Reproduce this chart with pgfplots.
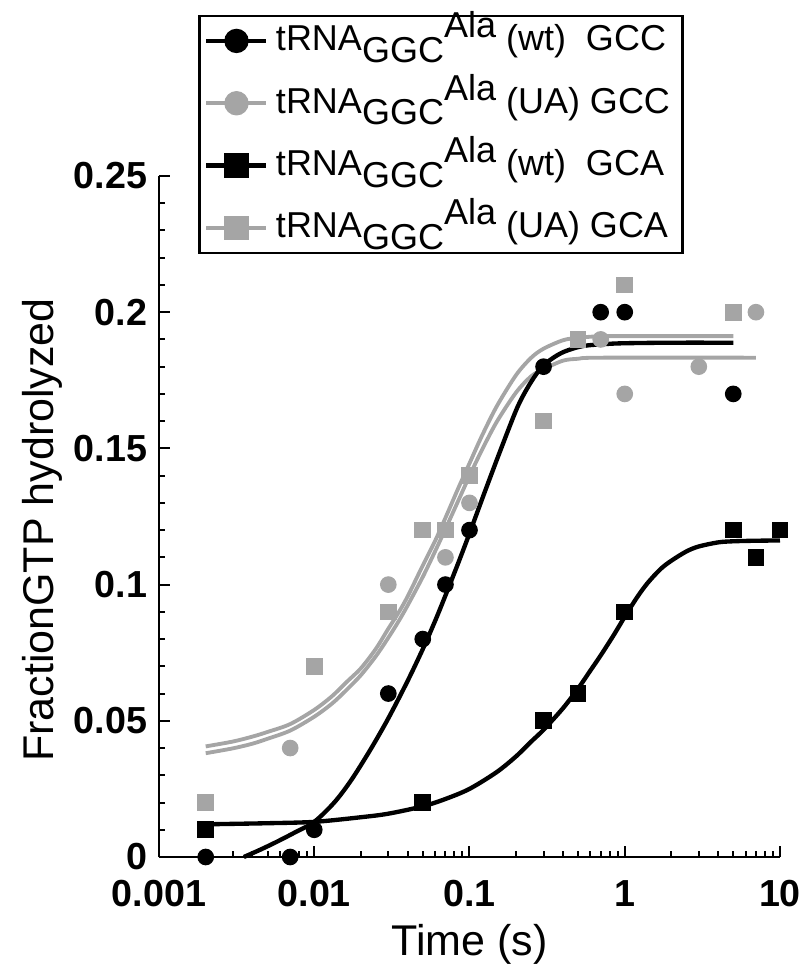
\documentclass[border=0pt]{standalone}
\usepackage{fontspec}
\setmainfont{Liberation Sans}
\usepackage{pgfplots}
\pgfplotsset{compat=1.18}
\definecolor{lgray}{RGB}{165,165,165}

\newcommand{\trna}[1]{tRNA\raisebox{-0.32em}{GGC}\raisebox{0.36em}{Ala} #1}

\begin{document}
\begin{tikzpicture}
\path[use as bounding box] (-47.7pt,-33.9pt) rectangle (192pt,257.1pt);
\begin{axis}[
    at={(0,0)}, anchor=south west,
    scale only axis, width=186.3pt, height=204.3pt,
    xmode=log, xmin=0.001, xmax=10, ymin=0, ymax=0.25,
    clip=false,
    axis lines*=left,
    axis line style={line width=0.8pt},
    tick align=inside,
    major tick length=3.2pt, minor tick length=1.9pt,
    every tick/.style={black, line width=0.6pt},
    xtick={0.001,0.01,0.1,1,10},
    xticklabels={0.001,0.01,0.1,1,10},
    minor xtick={0.002,0.003,0.004,0.005,0.006,0.007,0.008,0.009,
                 0.02,0.03,0.04,0.05,0.06,0.07,0.08,0.09,
                 0.2,0.3,0.4,0.5,0.6,0.7,0.8,0.9,
                 2,3,4,5,6,7,8,9},
    ytick={0,0.05,0.1,0.15,0.2,0.25},
    yticklabels={0,0.05,0.1,0.15,0.2,0.25},
    minor ytick={0.01,0.02,0.03,0.04,0.06,0.07,0.08,0.09,0.11,0.12,0.13,0.14,
                 0.16,0.17,0.18,0.19,0.21,0.22,0.23,0.24},
    tick label style={font=\fontsize{11.3}{13}\selectfont\bfseries},
    xticklabel style={yshift=-3.5pt},
    xlabel={Time (s)},
    ylabel={FractionGTP hydrolyzed},
    label style={font=\fontsize{12.9}{15}\selectfont},
    xlabel style={at={(axis description cs:0.5,-0.129)}, anchor=center},
    ylabel style={at={(axis description cs:-0.1884,0.48)}, anchor=center},
    legend style={at={(axis description cs:0.0628,1.237)}, anchor=north west,
        draw=black, line width=0.8pt, fill=white,
        inner xsep=1.5pt, inner ysep=1.5pt, row sep=6.7pt,
        font=\fontsize{10.8}{12}\selectfont,
        nodes={text height=9pt, text depth=3pt, inner ysep=0pt, inner xsep=2.2pt}},
    legend cell align=left,
    legend image code/.code={
        \draw[mark repeat=2, mark phase=2, #1]
            plot coordinates {(0pt,0pt) (9pt,0pt) (18pt,0pt)};},
]

% legend samples
\addlegendimage{black, line width=1.3pt, mark=*, mark size=3pt}
\addlegendentry{\trna{(wt)\ \ GCC}}
\addlegendimage{lgray, line width=1.3pt, mark=*, mark size=3pt}
\addlegendentry{\trna{(UA) GCC}}
\addlegendimage{black, line width=1.3pt, mark=square*, mark size=3pt}
\addlegendentry{\trna{(wt)\ \ GCA}}
\addlegendimage{lgray, line width=1.3pt, mark=square*, mark size=3pt}
\addlegendentry{\trna{(UA) GCA}}

% fitted curves
% UA GCA fit (upper gray)
\addplot[lgray, line width=1.15pt, smooth, forget plot] coordinates {
    (0.002,0.0406) (0.003,0.0424) (0.004,0.0442) (0.005,0.0459) (0.007,0.0488)
    (0.01,0.0540) (0.013,0.0590) (0.016,0.0640) (0.02,0.0693) (0.025,0.0765)
    (0.03,0.0838) (0.035,0.0898) (0.04,0.0957) (0.05,0.1070) (0.06,0.1160)
    (0.07,0.1245) (0.085,0.1356) (0.1,0.1445) (0.12,0.1545) (0.15,0.1655)
    (0.2,0.1770) (0.25,0.1833) (0.3,0.1866) (0.4,0.1897) (0.5,0.1906)
    (0.7,0.1912) (1,0.1912) (5,0.1912)};
% UA GCC fit (lower gray)
\addplot[lgray, line width=1.15pt, smooth, forget plot] coordinates {
    (0.002,0.0381) (0.003,0.0399) (0.004,0.0416) (0.005,0.0434) (0.007,0.0464)
    (0.01,0.0515) (0.013,0.0563) (0.016,0.0611) (0.02,0.0668) (0.025,0.0738)
    (0.03,0.0805) (0.035,0.0866) (0.04,0.0924) (0.05,0.1028) (0.06,0.1122)
    (0.07,0.1204) (0.085,0.1310) (0.1,0.1399) (0.12,0.1493) (0.15,0.1598)
    (0.2,0.1706) (0.25,0.1765) (0.3,0.1791) (0.4,0.1822) (0.5,0.1829)
    (0.7,0.1833) (7,0.1833)};
% wt GCC fit
\addplot[black, line width=1.3pt, smooth, forget plot] coordinates {
    (0.00352,0) (0.0045,0.0027) (0.0057,0.0055) (0.0075,0.0090) (0.01,0.0129)
    (0.0135,0.0201) (0.0173,0.0282) (0.023,0.0394) (0.03,0.0509) (0.04,0.0647)
    (0.05,0.0763) (0.06,0.0866) (0.07,0.0960) (0.085,0.1082) (0.1,0.1188)
    (0.125,0.1338) (0.16,0.1500) (0.205,0.1655) (0.25,0.1745) (0.3,0.1805)
    (0.39,0.1850) (0.53,0.1875) (0.75,0.1883) (1,0.1886) (2,0.1888) (5,0.1888)};
% wt GCA fit
\addplot[black, line width=1.3pt, smooth, forget plot] coordinates {
    (0.002,0.0120) (0.005,0.0124) (0.01,0.0129) (0.02,0.0146) (0.03,0.0159)
    (0.05,0.0186) (0.07,0.0213) (0.1,0.0250) (0.15,0.0312) (0.2,0.0370)
    (0.25,0.0424) (0.3,0.0467) (0.4,0.0546) (0.5,0.0618) (0.6,0.0684)
    (0.7,0.0740) (0.85,0.0815) (1,0.0882) (1.2,0.0953) (1.4,0.1005)
    (1.7,0.1057) (2,0.1088) (2.5,0.1122) (3,0.1140) (4,0.1155) (5,0.1159)
    (7,0.1161) (10,0.1162)};

% data points
\addplot[only marks, mark=square*, mark size=2.3pt, lgray, forget plot] coordinates {
    (0.002,0.02) (0.01,0.07) (0.03,0.09) (0.05,0.12) (0.07,0.12) (0.1,0.14)
    (0.3,0.16) (0.5,0.19) (1,0.21) (5,0.20)};
\addplot[only marks, mark=*, mark size=2.3pt, lgray, forget plot] coordinates {
    (0.007,0.04) (0.03,0.10) (0.07,0.11) (0.1,0.13) (0.7,0.19) (1,0.17)
    (3,0.18) (7,0.20)};
\addplot[only marks, mark=square*, mark size=2.3pt, black, forget plot] coordinates {
    (0.002,0.01) (0.05,0.02) (0.3,0.05) (0.5,0.06) (1,0.09) (5,0.12)
    (7,0.11) (10,0.12)};
\addplot[only marks, mark=*, mark size=2.3pt, black, forget plot] coordinates {
    (0.002,0) (0.007,0) (0.01,0.01) (0.03,0.06) (0.05,0.08) (0.07,0.10)
    (0.1,0.12) (0.3,0.18) (0.7,0.20) (1,0.20) (5,0.17)};

\end{axis}
\end{tikzpicture}
\end{document}
